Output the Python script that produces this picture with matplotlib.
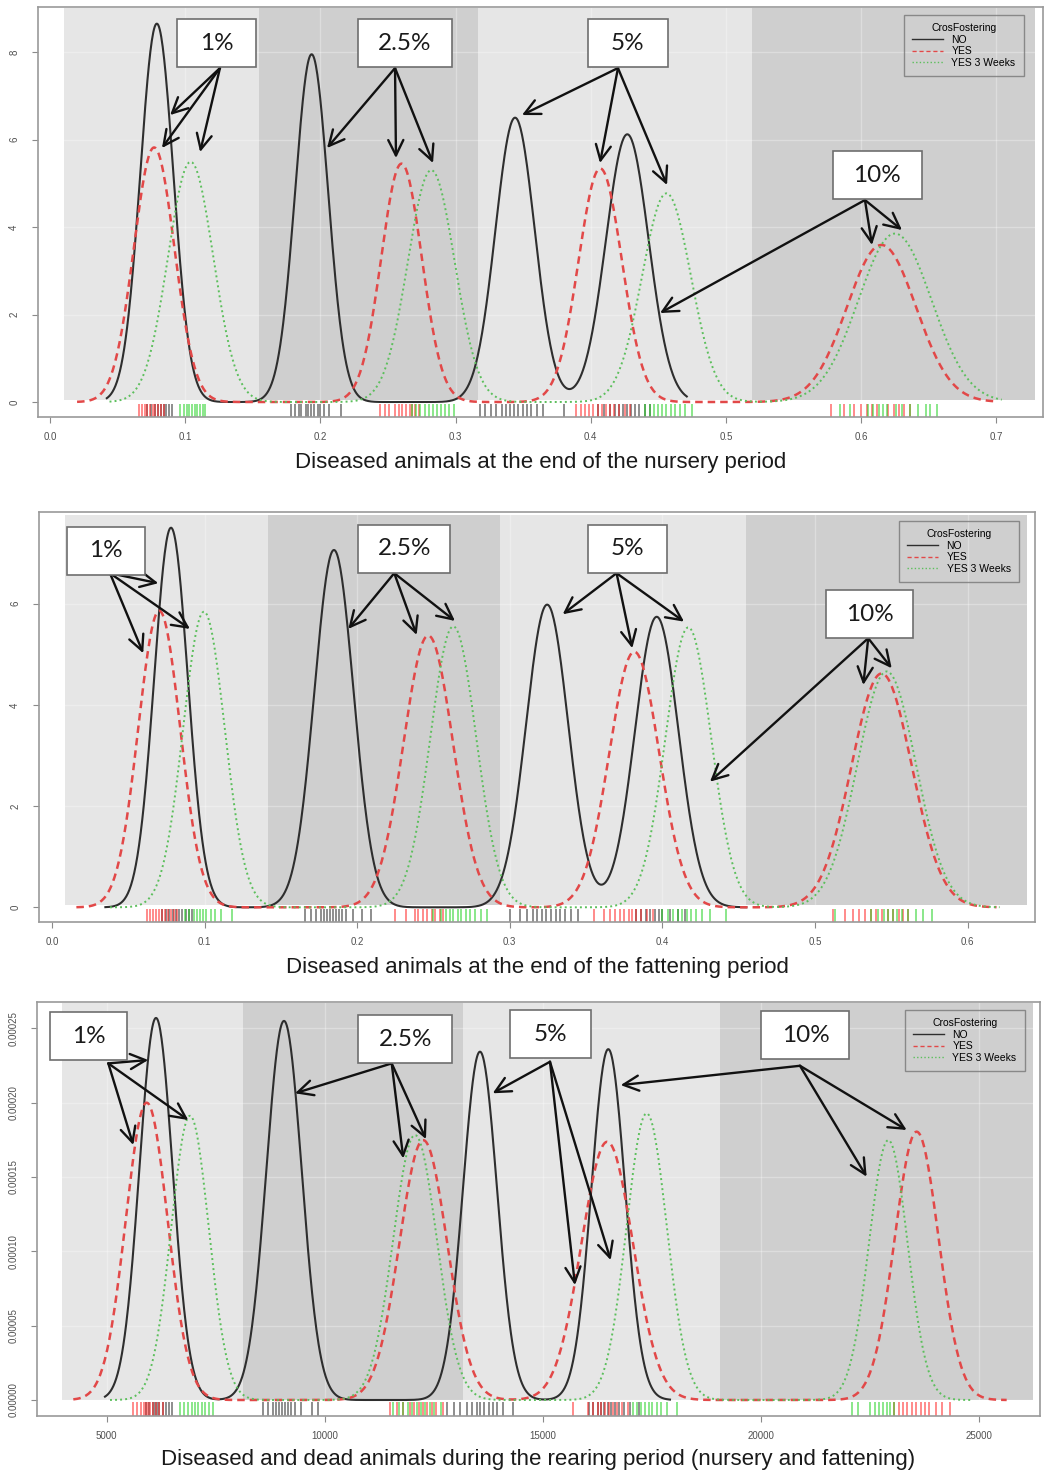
import matplotlib
matplotlib.use('Agg')
import matplotlib.pyplot as plt
import matplotlib.transforms as mtransforms
from matplotlib.patches import Rectangle
from matplotlib.lines import Line2D
import numpy as np

plt.rcParams['font.family'] = ['Liberation Sans', 'DejaVu Sans']

groups = ['NO', 'YES', 'YES 3 Weeks']
prevalence = ['1%', '2.5%', '5%', '10%']

# ---------------- panel 1: end of nursery ----------------
p1_no_mean = [0.079, 0.1935, 0.344, 0.427]
p1_no_sd = [0.0122, 0.0122, 0.0145, 0.0158]
p1_no_peak = [8.65, 7.95, 6.5, 6.12]
p1_yes_mean = [0.077, 0.260, 0.407, 0.615]
p1_yes_sd = [0.015, 0.015, 0.016, 0.0255]
p1_yes_peak = [5.82, 5.45, 5.34, 3.59]
p1_yes3_mean = [0.104, 0.282, 0.456, 0.625]
p1_yes3_sd = [0.0167, 0.0173, 0.018, 0.027]
p1_yes3_peak = [5.49, 5.30, 4.77, 3.85]
p1_range = [(0.042, 0.471), (0.020, 0.700), (0.044, 0.704)]

p1_no_rug = [0.072, 0.075, 0.078, 0.080, 0.082, 0.084, 0.086, 0.088, 0.090,
             0.178, 0.181, 0.184, 0.186, 0.189, 0.191, 0.193, 0.195, 0.198, 0.200, 0.203, 0.206, 0.215,
             0.318, 0.322, 0.326, 0.330, 0.334, 0.337, 0.340, 0.343, 0.346, 0.350, 0.353, 0.356, 0.360, 0.365, 0.380,
             0.405, 0.410, 0.414, 0.418, 0.421, 0.424, 0.427, 0.430, 0.433, 0.436, 0.440, 0.444]
p1_yes_rug = [0.066, 0.068, 0.070, 0.072, 0.074, 0.076, 0.078, 0.080, 0.082, 0.084,
              0.244, 0.248, 0.251, 0.255, 0.258, 0.260, 0.263, 0.266, 0.268, 0.270, 0.273,
              0.389, 0.393, 0.396, 0.399, 0.402, 0.405, 0.408, 0.411, 0.414, 0.417, 0.421, 0.425, 0.429,
              0.578, 0.587, 0.595, 0.600, 0.604, 0.608, 0.612, 0.620, 0.624, 0.628, 0.632, 0.636]
p1_yes3_rug = [0.096, 0.099, 0.101, 0.103, 0.105, 0.107, 0.109, 0.111, 0.113, 0.115,
               0.268, 0.271, 0.274, 0.277, 0.280, 0.283, 0.286, 0.289, 0.292, 0.295, 0.299,
               0.440, 0.444, 0.447, 0.450, 0.453, 0.456, 0.459, 0.462, 0.466, 0.470, 0.475,
               0.584, 0.592, 0.605, 0.609, 0.613, 0.616, 0.619, 0.626, 0.630, 0.636, 0.642, 0.648, 0.651, 0.656]

p1_bands = [0.010, 0.1546, 0.3166, 0.519, 0.7285]
p1_xticks = [0.0, 0.1, 0.2, 0.3, 0.4, 0.5, 0.6, 0.7]
p1_yticks = [0, 2, 4, 6, 8]

p1_box_xy = [(0.1232, 8.206), (0.2626, 8.206), (0.4275, 8.206), (0.612, 5.189)]
p1_box_w = [79, 94, 80, 89]
p1_arrow_from = [(0.1257, 7.634), (0.2552, 7.634), (0.4201, 7.634), (0.6028, 4.617)]
p1_arrow_to = [[(0.0888, 6.56), (0.0828, 5.806), (0.111, 5.714)],
               [(0.2049, 5.806), (0.2559, 5.577), (0.2833, 5.463)],
               [(0.3491, 6.56), (0.4068, 5.463), (0.4564, 4.96)],
               [(0.4512, 2.034), (0.608, 3.589), (0.6302, 3.931)]]

# ---------------- panel 2: end of fattening ----------------
p2_no_mean = [0.078, 0.1848, 0.3245, 0.3963]
p2_no_sd = [0.011, 0.0128, 0.0138, 0.0143]
p2_no_peak = [7.5, 7.06, 5.98, 5.74]
p2_yes_mean = [0.0703, 0.2466, 0.3816, 0.5437]
p2_yes_sd = [0.0137, 0.0162, 0.0163, 0.0197]
p2_yes_peak = [5.86, 5.37, 5.05, 4.62]
p2_yes3_mean = [0.0996, 0.263, 0.417, 0.547]
p2_yes3_sd = [0.0136, 0.015, 0.015, 0.0192]
p2_yes3_peak = [5.84, 5.55, 5.53, 4.66]
p2_range = [(0.035, 0.455), (0.016, 0.619), (0.038, 0.621)]

p2_no_rug = [0.072, 0.075, 0.077, 0.079, 0.081, 0.083, 0.085, 0.088, 0.090, 0.092,
             0.166, 0.170, 0.173, 0.176, 0.178, 0.180, 0.182, 0.184, 0.186, 0.188, 0.190, 0.193, 0.197, 0.203, 0.209,
             0.300, 0.307, 0.311, 0.315, 0.318, 0.321, 0.324, 0.327, 0.330, 0.333, 0.336, 0.340, 0.345,
             0.383, 0.386, 0.389, 0.392, 0.395, 0.398, 0.400, 0.405, 0.410, 0.415]
p2_yes_rug = [0.062, 0.064, 0.066, 0.068, 0.070, 0.072, 0.074, 0.076, 0.078, 0.080, 0.082,
              0.225, 0.232, 0.238, 0.240, 0.243, 0.246, 0.249, 0.251, 0.254, 0.256,
              0.355, 0.362, 0.366, 0.369, 0.372, 0.375, 0.378, 0.380, 0.383, 0.386, 0.390, 0.394,
              0.512, 0.520, 0.525, 0.529, 0.533, 0.537, 0.540, 0.544, 0.548, 0.551, 0.555, 0.558, 0.561]
p2_yes3_rug = [0.087, 0.090, 0.093, 0.095, 0.097, 0.099, 0.101, 0.104, 0.107, 0.111, 0.118,
               0.250, 0.255, 0.258, 0.261, 0.263, 0.266, 0.268, 0.271, 0.274, 0.277, 0.281, 0.285,
               0.400, 0.404, 0.407, 0.410, 0.413, 0.416, 0.419, 0.422, 0.426, 0.431, 0.442,
               0.513, 0.537, 0.541, 0.545, 0.548, 0.551, 0.554, 0.557, 0.561, 0.566, 0.571, 0.577]

p2_bands = [0.0085, 0.1416, 0.2936, 0.455, 0.6387]
p2_xticks = [0.0, 0.1, 0.2, 0.3, 0.4, 0.5, 0.6]
p2_yticks = [0, 2, 4, 6]

p2_box_xy = [(0.0351, 7.045), (0.231, 7.087), (0.3769, 7.087), (0.536, 5.793)]
p2_box_w = [78, 92, 79, 87]
p2_arrow_from = [(0.038, 6.601), (0.2243, 6.601), (0.370, 6.601), (0.5349, 5.316)]
p2_arrow_to = [[(0.0697, 6.403), (0.0904, 5.50), (0.0598, 5.02)],
               [(0.1942, 5.50), (0.239, 5.381), (0.2641, 5.658)],
               [(0.3347, 5.79), (0.3803, 5.119), (0.4142, 5.644)],
               [(0.4312, 2.482), (0.5317, 4.393), (0.5503, 4.723)]]

# ---------------- panel 3: rearing period ----------------
p3_no_mean = [6130, 9063, 13554, 16494]
p3_no_sd = [380, 405, 390, 385]
p3_no_peak = [2.57e-4, 2.55e-4, 2.343e-4, 2.36e-4]
p3_yes_mean = [5917, 12255, 16470, 23561]
p3_yes_sd = [480, 545, 590, 500]
p3_yes_peak = [2.0e-4, 1.748e-4, 1.737e-4, 1.805e-4]
p3_yes3_mean = [6909, 12065, 17374, 22911]
p3_yes3_sd = [430, 500, 460, 440]
p3_yes3_peak = [1.912e-4, 1.782e-4, 1.928e-4, 1.748e-4]
p3_range = [(4961, 17908), (4235, 25623), (5076, 24858)]

p3_no_rug = [5900, 5980, 6050, 6100, 6150, 6200, 6280, 6350, 6420, 6500,
             8590, 8700, 8800, 8880, 8950, 9020, 9080, 9150, 9230, 9320, 9450, 9700, 9850,
             12800, 12950, 13100, 13250, 13380, 13480, 13560, 13650, 13750, 13850, 13950, 14090, 14320,
             16050, 16150, 16250, 16330, 16400, 16480, 16560, 16650, 16750, 16850, 17000, 17200]
p3_yes_rug = [5610, 5700, 5780, 5850, 5900, 5950, 6000, 6050, 6120, 6200, 6300,
              11500, 11650, 11800, 11950, 12050, 12150, 12250, 12350, 12450, 12550, 12700,
              15690, 16040, 16150, 16250, 16330, 16420, 16500, 16600, 16700, 16800, 16950,
              23030, 23150, 23250, 23350, 23450, 23550, 23650, 23750, 23850, 24000, 24150, 24320]
p3_yes3_rug = [6680, 6780, 6870, 6950, 7030, 7100, 7180, 7260, 7350, 7440,
               11550, 11700, 11800, 11900, 12000, 12100, 12200, 12300, 12400, 12500, 12650,
               17060, 17150, 17250, 17330, 17420, 17500, 17600, 17700, 17830, 18060,
               22070, 22220, 22500, 22600, 22700, 22800, 22880, 22950, 23030]

p3_bands = [3969, 8130, 13172, 19054, 26233]
p3_xticks = [5000, 10000, 15000, 20000, 25000]
p3_yticks = [0.0, 0.00005, 0.00010, 0.00015, 0.00020, 0.00025]

p3_box_xy = [(4588, 2.445e-4), (11842, 2.426e-4), (15165, 2.46e-4), (21013, 2.455e-4)]
p3_box_w = [77, 94, 81, 88]
p3_arrow_from = [(5037, 2.264e-4), (11531, 2.264e-4), (15158, 2.275e-4), (20887, 2.248e-4)]
p3_arrow_to = [[(5953, 2.287e-4), (5610, 1.715e-4), (6870, 1.883e-4)],
               [(9315, 2.063e-4), (11797, 1.625e-4), (12317, 1.755e-4)],
               [(13845, 2.063e-4), (15731, 7.73e-5), (16549, 9.41e-5)],
               [(16778, 2.118e-4), (22415, 1.502e-4), (23332, 1.816e-4)]]

# line styles per group
styles = [dict(color='#2e2e2e', lw=1.5, ls='-'),
          dict(color='#e24848', lw=1.8, ls=(0, (3, 2))),
          dict(color='#5cbf5c', lw=1.4, ls=(0, (1, 1.6)))]
rug_colors = ['#202020', '#ff1a1a', '#1ad01a']

LIGHT = '#e6e6e6'
DARK = '#cfcfcf'
DPI = 100

panels = [
    dict(means=[p1_no_mean, p1_yes_mean, p1_yes3_mean], sds=[p1_no_sd, p1_yes_sd, p1_yes3_sd],
         peaks=[p1_no_peak, p1_yes_peak, p1_yes3_peak], ranges=p1_range,
         rugs=[p1_no_rug, p1_yes_rug, p1_yes3_rug], bands=p1_bands,
         xticks=p1_xticks, yticks=p1_yticks, xfmt='{:.1f}', yfmt='{:g}',
         xlim=(-0.0089, 0.7345), ylim=(-0.336, 9.03), band_y=(0.046, 9.0),
         box_xy=p1_box_xy, box_w=p1_box_w, arr_from=p1_arrow_from, arr_to=p1_arrow_to,
         pos=[38, 7, 1043, 416.7], leg=(0.981, 0.9805),
         xlabel='Diseased animals at the end of the nursery period', xlab_px=462),
    dict(means=[p2_no_mean, p2_yes_mean, p2_yes3_mean], sds=[p2_no_sd, p2_yes_sd, p2_yes3_sd],
         peaks=[p2_no_peak, p2_yes_peak, p2_yes3_peak], ranges=p2_range,
         rugs=[p2_no_rug, p2_yes_rug, p2_yes3_rug], bands=p2_bands,
         xticks=p2_xticks, yticks=p2_yticks, xfmt='{:.1f}', yfmt='{:g}',
         xlim=(-0.0085, 0.6442), ylim=(-0.29, 7.81), band_y=(0.05, 7.75),
         box_xy=p2_box_xy, box_w=p2_box_w, arr_from=p2_arrow_from, arr_to=p2_arrow_to,
         pos=[39, 512, 1035, 922], leg=(0.984, 0.978),
         xlabel='Diseased animals at the end of the fattening period', xlab_px=967),
    dict(means=[p3_no_mean, p3_yes_mean, p3_yes3_mean], sds=[p3_no_sd, p3_yes_sd, p3_yes3_sd],
         peaks=[p3_no_peak, p3_yes_peak, p3_yes3_peak], ranges=p3_range,
         rugs=[p3_no_rug, p3_yes_rug, p3_yes3_rug], bands=p3_bands,
         xticks=p3_xticks, yticks=p3_yticks, xfmt='{:.0f}', yfmt='{:.5f}',
         xlim=(3403, 26387), ylim=(-1.056e-5, 2.677e-4), band_y=(0.0, 2.668e-4),
         box_xy=p3_box_xy, box_w=p3_box_w, arr_from=p3_arrow_from, arr_to=p3_arrow_to,
         pos=[37, 1002, 1040, 1415.7], leg=(0.985, 0.9807),
         xlabel='Diseased and dead animals during the rearing period (nursery and fattening)', xlab_px=1460),
]

W, H = 1047, 1475
fig = plt.figure(figsize=(W / DPI, H / DPI), dpi=DPI)


def bumps(x, means, sds, peaks):
    y = np.zeros_like(x)
    for m, s, h in zip(means, sds, peaks):
        y += h * np.exp(-0.5 * ((x - m) / s) ** 2)
    return y


for p in panels:
    l, t, r, b = p['pos']
    ax = fig.add_axes([l / W, 1 - b / H, (r - l) / W, (b - t) / H])
    ax.set_xlim(*p['xlim'])
    ax.set_ylim(*p['ylim'])
    ax.set_axisbelow(True)

    # background bands
    bands = p['bands']
    for i in range(len(bands) - 1):
        ax.fill_between([bands[i], bands[i + 1]], p['band_y'][0], p['band_y'][1],
                        color=LIGHT if i % 2 == 0 else DARK, lw=0, zorder=0.2)
    ax.grid(True, color='white', lw=1, alpha=0.3, zorder=0.5)

    # density curves
    for g in range(3):
        lo, hi = p['ranges'][g]
        xs = np.linspace(lo, hi, 800)
        ax.plot(xs, bumps(xs, p['means'][g], p['sds'][g], p['peaks'][g]), zorder=3, **styles[g])

    # rug
    for g in range(3):
        ax.vlines(p['rugs'][g], 0, 0.032, transform=ax.get_xaxis_transform(),
                  color=rug_colors[g], lw=1.3, alpha=0.55, zorder=2)

    # annotation boxes and arrows
    for k, lab in enumerate(prevalence):
        cx, cy = p['box_xy'][k]
        w = p['box_w'][k] / DPI
        h = 48 / DPI
        trans = fig.dpi_scale_trans + mtransforms.ScaledTranslation(cx, cy, ax.transData)
        ax.add_patch(Rectangle((-w / 2, -h / 2), w, h, transform=trans, facecolor='white',
                               edgecolor='#6e6e6e', lw=1.2, zorder=6, clip_on=False))
        ax.text(cx, cy, lab, ha='center', va='center', fontsize=17.5, family='Lato',
                color='#1a1a1a', zorder=7)
        for tx, ty in p['arr_to'][k]:
            ax.annotate('', xy=(tx, ty), xytext=p['arr_from'][k],
                        arrowprops=dict(arrowstyle='->,head_length=0.65,head_width=0.32',
                                        color='#111111', lw=1.7, mutation_scale=17,
                                        shrinkA=0, shrinkB=0), zorder=5)

    # axes styling
    ax.set_xticks(p['xticks'])
    ax.set_xticklabels([p['xfmt'].format(v) for v in p['xticks']])
    ax.set_yticks(p['yticks'])
    ax.set_yticklabels([p['yfmt'].format(v) for v in p['yticks']], rotation=90, va='center')
    ax.tick_params(axis='both', length=4, width=0.8, color='#8a8a8a', labelsize=7,
                   labelcolor='#505050')
    ax.tick_params(axis='x', pad=7)
    ax.tick_params(axis='y', pad=9.5)
    for sp in ax.spines.values():
        sp.set_color('#9a9a9a')
        sp.set_linewidth(1.2)

    ax.set_xlabel(p['xlabel'], fontsize=16, color='#1a1a1a')
    ax.xaxis.set_label_coords(0.5, (b - p['xlab_px']) / (b - t))
    ax.xaxis.label.set_va('center')

    handles = [Line2D([], [], color=styles[g]['color'], ls=styles[g]['ls'], lw=1) for g in range(3)]
    leg = ax.legend(handles, groups, title='CrosFostering', loc='upper right',
                    bbox_to_anchor=p['leg'], fontsize=7.5, title_fontsize=7.5,
                    frameon=True, fancybox=False, facecolor='none', edgecolor='#777777',
                    handlelength=3.0, borderpad=0.8, labelspacing=0.15, handletextpad=0.8,
                    borderaxespad=0)
    leg.get_frame().set_linewidth(1.0)
    leg.set_zorder(8)

fig.savefig('out.png', dpi=DPI)
